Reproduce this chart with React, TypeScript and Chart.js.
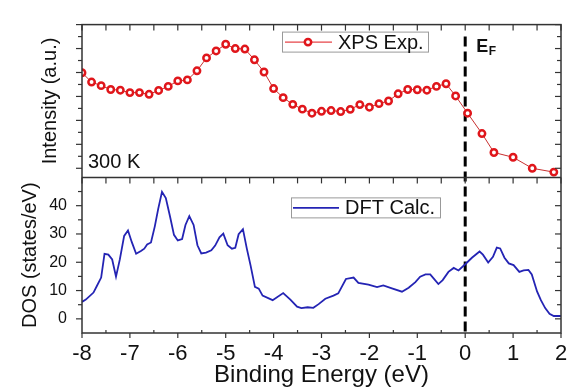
import React, { useEffect, useRef } from 'react';
import { Chart, registerables } from 'chart.js';

Chart.register(...registerables);

// ---------- data ----------
const xpsEnergy = [
  -8.0, -7.8, -7.6, -7.4, -7.2, -7.0, -6.8, -6.6, -6.4, -6.2,
  -6.0, -5.8, -5.6, -5.4, -5.2, -5.0, -4.8, -4.6, -4.4, -4.2,
  -4.0, -3.8, -3.6, -3.4, -3.2, -3.0, -2.8, -2.6, -2.4, -2.2,
  -2.0, -1.8, -1.6, -1.4, -1.2, -1.0, -0.8, -0.6, -0.4, -0.2,
  0.05, 0.35, 0.6, 1.0, 1.4, 1.85,
];
const xpsIntensity = [
  3.99, 3.6, 3.45, 3.29, 3.26, 3.16, 3.16, 3.09, 3.25, 3.42,
  3.65, 3.69, 4.07, 4.61, 4.9, 5.18, 5.0, 4.98, 4.53, 4.02,
  3.33, 2.95, 2.67, 2.47, 2.3, 2.38, 2.41, 2.37, 2.46, 2.66,
  2.55, 2.7, 2.81, 3.11, 3.29, 3.28, 3.26, 3.42, 3.53, 3.02,
  2.3, 1.45, 0.66, 0.46, 0.0, -0.16,
];

const dosEnergy = [
  -8.0, -7.92, -7.76, -7.69, -7.6, -7.53, -7.45, -7.37, -7.29, -7.21,
  -7.12, -7.04, -6.96, -6.87, -6.77, -6.7, -6.64, -6.56, -6.48, -6.41,
  -6.33, -6.25, -6.16, -6.08, -6.0, -5.91, -5.84, -5.76, -5.67, -5.59,
  -5.51, -5.41, -5.3, -5.22, -5.13, -5.05, -4.96, -4.87, -4.8, -4.73,
  -4.64, -4.56, -4.48, -4.39, -4.31, -4.23, -4.02, -3.8, -3.65, -3.51,
  -3.42, -3.29, -3.17, -3.06, -2.92, -2.75, -2.65, -2.49, -2.33, -2.23,
  -2.02, -1.84, -1.71, -1.53, -1.32, -1.18, -1.04, -0.94, -0.83, -0.73,
  -0.66, -0.56, -0.47, -0.35, -0.24, -0.14, 0.0, 0.14, 0.3, 0.37,
  0.48, 0.58, 0.66, 0.73, 0.82, 0.91, 1.01, 1.13, 1.22, 1.32,
  1.39, 1.5, 1.58, 1.67, 1.76, 1.85, 2.0,
];
const dosValues = [
  6.0, 6.8, 9.3, 11.6, 14.6, 23.0, 22.7, 21.0, 14.9, 21.0,
  29.3, 31.2, 27.1, 23.0, 24.0, 24.8, 26.3, 27.0, 32.7, 38.8,
  44.9, 42.7, 36.0, 29.7, 27.7, 28.2, 33.2, 36.3, 33.2, 26.0,
  23.1, 23.4, 24.2, 25.9, 28.8, 30.1, 26.0, 24.8, 25.1, 29.9,
  31.7, 24.9, 18.8, 11.3, 10.7, 8.2, 6.6, 9.1, 6.8, 4.3,
  3.8, 4.1, 3.9, 5.2, 7.1, 8.2, 9.0, 14.1, 14.6, 12.7,
  12.1, 11.2, 11.8, 10.8, 9.6, 11.0, 13.0, 14.9, 15.7, 15.7,
  14.3, 12.3, 13.7, 16.6, 18.0, 17.1, 19.3, 21.6, 23.8, 22.7,
  19.9, 21.9, 25.2, 24.9, 21.6, 19.6, 19.0, 16.6, 17.1, 17.3,
  15.7, 9.7, 6.6, 3.8, 1.8, 1.0, 1.0,
];

const xTicks = [-8, -7, -6, -5, -4, -3, -2, -1, 0, 1, 2];
const intensityTicks = [0, 1, 2, 3, 4, 5, 6];
const dosTicks = [0, 10, 20, 30, 40];

const xpsLabel = 'XPS Exp.';
const dftLabel = 'DFT Calc.';
const tempLabel = '300 K';
const xTitle = 'Binding Energy (eV)';
const y1Title = 'Intensity (a.u.)';
const y2Title = 'DOS (states/eV)';

const FONT = '"Liberation Sans", Arial, Helvetica, sans-serif';
const RED = '#e0161b';
const BLUE = '#2424b4';
const MARKER_R = 3.2;
const MARKER_W = 2.5;

const framePlugin = {
  id: 'frame',
  beforeDatasetsDraw(chart: any) {
    const { ctx, chartArea: a, scales } = chart;
    const x0 = scales.x.getPixelForValue(0);
    ctx.save();
    ctx.strokeStyle = '#000';
    ctx.lineWidth = 3;
    ctx.setLineDash([10, 5]);
    ctx.beginPath();
    ctx.moveTo(x0, a.top + 12);
    ctx.lineTo(x0, a.bottom);
    ctx.stroke();
    ctx.restore();
  },
  afterDraw(chart: any) {
    const { ctx, chartArea: a, scales } = chart;
    const xs = scales.x;
    const y1 = scales.y1;
    const y2 = scales.y2;
    ctx.save();
    // frame
    ctx.strokeStyle = '#333';
    ctx.lineWidth = 1.5;
    ctx.strokeRect(a.left, a.top, a.right - a.left, a.bottom - a.top);
    ctx.beginPath();
    ctx.moveTo(a.left, y1.bottom);
    ctx.lineTo(a.right, y1.bottom);
    ctx.stroke();

    ctx.lineWidth = 1.2;
    const vline = (px: number, ya: number, yb: number) => {
      ctx.beginPath();
      ctx.moveTo(px, ya);
      ctx.lineTo(px, yb);
      ctx.stroke();
    };
    const hline = (py: number, xa: number, xb: number) => {
      ctx.beginPath();
      ctx.moveTo(xa, py);
      ctx.lineTo(xb, py);
      ctx.stroke();
    };
    // x ticks
    xTicks.forEach((t, i) => {
      const px = xs.getPixelForValue(t);
      vline(px, a.bottom, a.bottom + 5);
      vline(px, a.top, a.top + 6);
      vline(px, y1.bottom, y1.bottom + 6);
      if (i < xTicks.length - 1) {
        const pm = xs.getPixelForValue(t + 0.5);
        vline(pm, a.bottom - 3, a.bottom);
        vline(pm, a.top, a.top + 6);
        vline(pm, y1.bottom, y1.bottom + 6);
      }
    });
    // top panel y ticks
    intensityTicks.forEach((t) => {
      const py = y1.getPixelForValue(t);
      hline(py, a.left - 6, a.left);
      hline(py, a.right - 6, a.right);
      const pm = y1.getPixelForValue(t + 0.5);
      if (pm > a.top + 1) {
        hline(pm, a.left - 4, a.left);
        hline(pm, a.right - 4, a.right);
      }
    });
    // bottom panel y ticks
    dosTicks.forEach((t) => {
      const py = y2.getPixelForValue(t);
      hline(py, a.left - 6, a.left);
      hline(py, a.right - 6, a.right);
      const pm = y2.getPixelForValue(t + 5);
      hline(pm, a.left - 4, a.left);
      hline(pm, a.right - 4, a.right);
    });

    // legends
    ctx.fillStyle = '#111';
    ctx.textBaseline = 'middle';
    ctx.textAlign = 'left';
    ctx.font = `20px ${FONT}`;
    // top legend
    {
      const bx = a.left + 200, by = a.top + 7, bw = 146, bh = 20;
      ctx.fillStyle = '#fff';
      ctx.fillRect(bx, by, bw, bh);
      ctx.strokeStyle = '#999';
      ctx.lineWidth = 1;
      ctx.strokeRect(bx + 0.5, by + 0.5, bw, bh);
      const cy = by + bh / 2 + 0.5;
      ctx.strokeStyle = RED;
      ctx.lineWidth = 1;
      hline(cy, bx + 3, bx + 50);
      ctx.fillStyle = '#fff';
      ctx.strokeStyle = RED;
      ctx.lineWidth = MARKER_W;
      ctx.beginPath();
      ctx.arc(bx + 26, cy, MARKER_R, 0, Math.PI * 2);
      ctx.fill();
      ctx.stroke();
      ctx.fillStyle = '#111';
      ctx.fillText(xpsLabel, bx + 56, cy + 1);
    }
    // bottom legend
    {
      const bx = a.left + 209, by = y2.top + 20, bw = 149, bh = 20;
      ctx.fillStyle = '#fff';
      ctx.fillRect(bx, by, bw, bh);
      ctx.strokeStyle = '#999';
      ctx.lineWidth = 1;
      ctx.strokeRect(bx + 0.5, by + 0.5, bw, bh);
      const cy = by + bh / 2 + 0.5;
      ctx.strokeStyle = BLUE;
      ctx.lineWidth = 1.8;
      hline(cy, bx + 2, bx + 48);
      ctx.fillStyle = '#111';
      ctx.fillText(dftLabel, bx + 54, cy + 1);
    }
    // 300 K
    ctx.textBaseline = 'alphabetic';
    ctx.font = `20px ${FONT}`;
    ctx.fillStyle = '#111';
    ctx.fillText(tempLabel, a.left + 6, y1.bottom - 9);
    // E_F
    const x0 = xs.getPixelForValue(0);
    ctx.font = `bold 18px ${FONT}`;
    ctx.fillText('E', x0 + 11, a.top + 27);
    const ew = ctx.measureText('E').width;
    ctx.font = `bold 12px ${FONT}`;
    ctx.fillText('F', x0 + 11 + ew + 0.5, a.top + 30);
    ctx.restore();
  },
};

export default function App() {
  const ref = useRef<HTMLCanvasElement | null>(null);

  useEffect(() => {
    document.body.style.margin = '0';
    const canvas = ref.current;
    if (!canvas) return;
    Chart.defaults.font.family = FONT;
    Chart.defaults.color = '#111';
    const chart = new Chart(canvas, {
      type: 'line',
      data: {
        datasets: [
          {
            label: xpsLabel,
            data: xpsEnergy.map((e, i) => ({ x: e, y: xpsIntensity[i] })),
            xAxisID: 'x',
            yAxisID: 'y1',
            borderColor: '#c83030',
            borderWidth: 1,
            pointRadius: MARKER_R,
            pointBorderWidth: MARKER_W,
            pointBackgroundColor: '#fff',
            pointBorderColor: RED,
            tension: 0,
          },
          {
            label: dftLabel,
            data: dosEnergy.map((e, i) => ({ x: e, y: dosValues[i] })),
            xAxisID: 'x',
            yAxisID: 'y2',
            borderColor: BLUE,
            borderWidth: 1.8,
            pointRadius: 0,
            tension: 0,
          },
        ],
      },
      options: {
        responsive: false,
        animation: false,
        devicePixelRatio: 1,
        layout: { padding: { top: 6, right: 16, bottom: 0, left: 0 } },
        plugins: { legend: { display: false }, tooltip: { enabled: false } },
        scales: {
          x: {
            type: 'linear',
            position: 'bottom',
            min: -8,
            max: 2,
            grid: { display: false, drawTicks: false },
            border: { display: false },
            afterBuildTicks: (s: any) => {
              s.ticks = xTicks.map((v) => ({ value: v }));
            },
            ticks: {
              autoSkip: false,
              maxRotation: 0,
              padding: 8,
              color: '#111',
              font: { size: 22, family: FONT },
            },
            title: {
              display: true,
              text: xTitle,
              color: '#111',
              font: { size: 24, family: FONT },
              padding: { top: 0, bottom: 0 },
            },
            afterFit: (s: any) => {
              s.height = 57;
            },
          },
          y1: {
            type: 'linear',
            position: 'left',
            stack: 'panels',
            stackWeight: 162,
            weight: 2,
            min: -0.38,
            max: 6,
            grid: { display: false, drawTicks: false },
            border: { display: false },
            ticks: { display: false },
            title: {
              display: true,
              text: y1Title,
              color: '#111',
              font: { size: 20, family: FONT },
              padding: { top: 38, bottom: 0 },
            },
            afterFit: (s: any) => {
              s.width = 82;
            },
          },
          y2: {
            type: 'linear',
            position: 'left',
            stack: 'panels',
            stackWeight: 165,
            weight: 1,
            min: -5,
            max: 50,
            grid: { display: false, drawTicks: false },
            border: { display: false },
            afterBuildTicks: (s: any) => {
              s.ticks = dosTicks.map((v) => ({ value: v }));
            },
            ticks: {
              padding: 15,
              color: '#111',
              font: { size: 16, family: FONT },
            },
            title: {
              display: true,
              text: y2Title,
              color: '#111',
              font: { size: 20, family: FONT },
              padding: { top: 18, bottom: 0 },
            },
            afterFit: (s: any) => {
              s.width = 82;
            },
          },
        },
      },
      plugins: [framePlugin],
    } as any);
    return () => chart.destroy();
  }, []);

  return (
    <div style={{ width: 577, height: 390, background: '#fff' }}>
      <canvas ref={ref} width={577} height={390} style={{ width: 577, height: 390, display: 'block' }} />
    </div>
  );
}
